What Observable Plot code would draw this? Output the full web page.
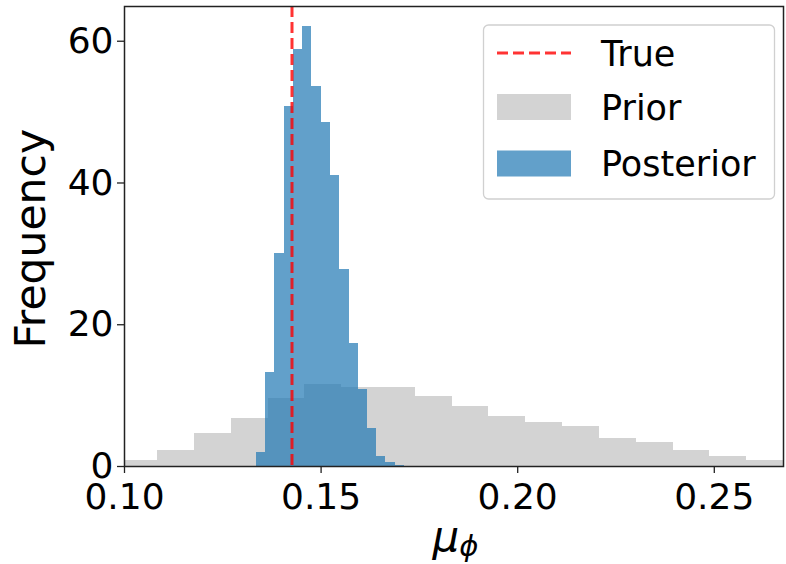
<!DOCTYPE html>
<html>
<head>
<meta charset="utf-8">
<script src="https://cdn.jsdelivr.net/npm/d3@7"></script>
<script src="https://cdn.jsdelivr.net/npm/@observablehq/plot@0.6"></script>
<style>
  html, body { margin: 0; padding: 0; background: #fff; }
  #chart { position: relative; width: 786px; height: 564px; }
</style>
</head>
<body>
<div id="chart"></div>
<script>
// ---- data (density histograms) ----
const priorEdges = [0.0991, 0.1085, 0.1178, 0.1272, 0.1365, 0.1459, 0.1553, 0.1646, 0.1740, 0.1833,
                    0.1927, 0.2021, 0.2114, 0.2208, 0.2301, 0.2395, 0.2489, 0.2582, 0.2676];
const priorDensity = [0.8, 2.2, 4.6, 6.8, 9.6, 11.6, 11.1, 11.1, 9.9, 8.5, 7.1, 6.2, 5.6, 4.0, 3.4, 2.3, 1.4, 0.85];

const posteriorEdges = [0.1335, 0.1359, 0.1382, 0.1406, 0.1429, 0.1453, 0.1476, 0.1500, 0.1524,
                        0.1547, 0.1571, 0.1594, 0.1618, 0.1641, 0.1665, 0.1688, 0.1712];
const posteriorDensity = [2.0, 13.3, 30.1, 50.8, 58.9, 62.1, 53.6, 48.5, 41.1, 27.8, 17.3, 10.8, 5.4, 1.4, 0.6, 0.2];

const trueValue = [0.1426];

const xTicks = [0.10, 0.15, 0.20, 0.25];
const yTicks = [0, 20, 40, 60];
const legendLabels = ["True", "Prior", "Posterior"];

const prior = priorDensity.map((d, i) => ({x1: priorEdges[i], x2: priorEdges[i + 1], y: d}));
const posterior = posteriorDensity.map((d, i) => ({x1: posteriorEdges[i], x2: posteriorEdges[i + 1], y: d}));

const W = 786, H = 564;
const chart = Plot.plot({
  width: W,
  height: H,
  marginLeft: 124,
  marginRight: 3,
  marginTop: 6,
  marginBottom: 98,
  style: {fontFamily: "DejaVu Sans", fontSize: "36px", color: "black", background: "white"},
  x: {domain: [0.10, 0.2676]},
  y: {domain: [0, 64.9]},
  marks: [
    Plot.rectY(prior, {x1: "x1", x2: "x2", y: "y", fill: "#d3d3d3", inset: 0, clip: true, shapeRendering: "crispEdges"}),
    Plot.rectY(posterior, {x1: "x1", x2: "x2", y: "y", fill: "#1f77b4", fillOpacity: 0.7, inset: 0, clip: true, shapeRendering: "crispEdges"}),
    Plot.ruleX(trueValue, {stroke: "red", strokeOpacity: 0.8, strokeWidth: 3, strokeDasharray: "11,5"}),
    Plot.axisX({ticks: xTicks, tickFormat: d3.format(".2f"), tickSize: 7, tickPadding: 10, label: null, stroke: "#222", strokeWidth: 1.3}),
    Plot.axisY({ticks: yTicks, tickFormat: d3.format("d"), tickSize: 7, tickPadding: 4, label: null, stroke: "#222", strokeWidth: 1.3}),
    Plot.frame({stroke: "#222", strokeWidth: 1.5})
  ]
});
document.getElementById("chart").appendChild(chart);

// ---- labels and legend (real SVG text) ----
const svg = d3.select(chart);
svg.append("text")
  .attr("transform", "translate(45,238.7) rotate(-90)")
  .attr("text-anchor", "middle")
  .style("font-family", "DejaVu Sans").style("font-size", "42.5px").attr("fill", "black")
  .text("Frequency");

const xl = svg.append("text")
  .attr("x", 455.5).attr("y", 551)
  .attr("text-anchor", "middle")
  .style("font-family", "DejaVu Sans").style("font-size", "42px").attr("fill", "black");
xl.append("tspan").style("font-style", "italic").text("μ");
xl.append("tspan").style("font-style", "italic").style("font-size", "29px").attr("dy", 5).text("ϕ");

const lg = svg.append("g");
lg.append("rect").attr("x", 483.5).attr("y", 25).attr("width", 291).attr("height", 174)
  .attr("rx", 5).attr("fill", "white").attr("fill-opacity", 0.8).attr("stroke", "#d0d0d0").attr("stroke-width", 1.3);
lg.append("line").attr("x1", 497).attr("x2", 571).attr("y1", 53).attr("y2", 53)
  .attr("stroke", "red").attr("stroke-opacity", 0.8).attr("stroke-width", 3).attr("stroke-dasharray", "11,5");
lg.append("rect").attr("x", 497).attr("y", 94).attr("width", 74).attr("height", 26).attr("fill", "#d3d3d3");
lg.append("rect").attr("x", 497).attr("y", 150.5).attr("width", 74).attr("height", 26).attr("fill", "#1f77b4").attr("fill-opacity", 0.7);
const ly = [53, 107, 163.5];
legendLabels.forEach((t, i) => {
  lg.append("text").attr("x", 601).attr("y", ly[i]).attr("dy", "0.36em")
    .attr("text-anchor", "start")
    .style("font-family", "DejaVu Sans").style("font-size", "35px").attr("fill", "black")
    .text(t);
});
</script>
</body>
</html>
